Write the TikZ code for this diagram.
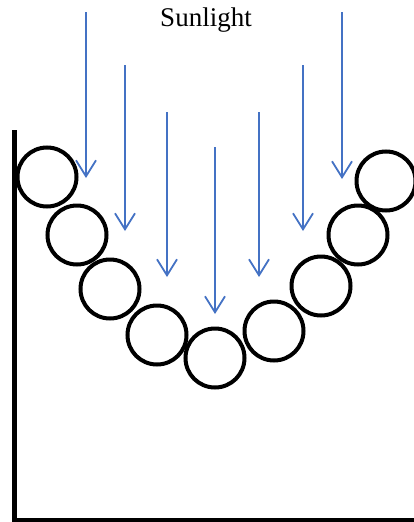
\documentclass[tikz,border=0pt]{standalone}
\usepackage{fontspec}
\setmainfont{Liberation Serif}
\usetikzlibrary{arrows.meta}
\definecolor{rayblue}{HTML}{4472C4}
\tikzset{
  ball/.style={circle,draw=black,line width=4pt,minimum size=59pt,inner sep=0pt},
  ray/.style={draw=rayblue,line width=1.8pt,-{Straight Barb[length=16pt,width=20pt,line width=1.8pt]}},
  wall/.style={draw=black,line width=5pt},
  lbl/.style={font=\fontsize{27}{32}\selectfont,inner sep=0pt}
}
\begin{document}
\begin{tikzpicture}[x=1pt,y=-1pt]
\useasboundingbox (0,0) rectangle (414,522);
% axes
\coordinate (top) at (14.5,130);
\coordinate (corner) at (14.5,520);
\coordinate (right) at (416,520);
\draw[wall] (top) -- (corner) -- (right);
% balls
\node[ball] (b1) at (47,177) {};
\node[ball] (b2) at (77,235) {};
\node[ball] (b3) at (110,289) {};
\node[ball] (b4) at (157,335) {};
\node[ball] (b5) at (215,358) {};
\node[ball] (b6) at (274,331) {};
\node[ball] (b7) at (321,286) {};
\node[ball] (b8) at (358,235) {};
\node[ball] (b9) at (386,181) {};
% label
\node[lbl,anchor=base] (sun) at (206,27) {Sunlight};
% rays
\coordinate (s1) at (86,12);   \coordinate (e1) at (86,178);
\coordinate (s2) at (125,65);  \coordinate (e2) at (125,231);
\coordinate (s3) at (167,112); \coordinate (e3) at (167,277);
\coordinate (s4) at (215,147); \coordinate (e4) at (215,314);
\coordinate (s5) at (259,112); \coordinate (e5) at (259,277);
\coordinate (s6) at (303,65);  \coordinate (e6) at (303,231);
\coordinate (s7) at (342,12);  \coordinate (e7) at (342,179);
\foreach \i in {1,...,7} {\draw[ray] (s\i) -- (e\i);}
\end{tikzpicture}
\end{document}
